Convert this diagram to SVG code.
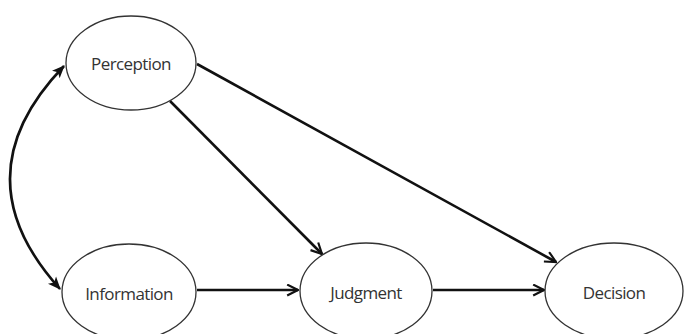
<svg xmlns="http://www.w3.org/2000/svg" width="685" height="334" viewBox="0 0 685 334">
<style>
.node ellipse{fill:#fff;stroke:#333;stroke-width:1.3}
.node text{font-family:"Open Sans","Noto Sans",sans-serif;font-size:17px;fill:#333;text-anchor:middle;dominant-baseline:central;letter-spacing:-0.6px}
.edge{fill:none;stroke:#111;stroke-width:2.6}
</style>
<defs>
<marker id="ah" viewBox="0 0 12 12" refX="11" refY="6" markerWidth="5" markerHeight="5" orient="auto-start-reverse" markerUnits="strokeWidth">
<path d="M1,1 L11,6 L1,11" fill="none" stroke="#111" stroke-width="2"/>
</marker>
<marker id="ahf" viewBox="0 0 12 12" refX="11" refY="6" markerWidth="5" markerHeight="5" orient="auto-start-reverse" markerUnits="strokeWidth">
<path d="M0,1 L12,6 L0,11 L3,6 z" fill="#111"/>
</marker>
</defs>
<g id="connectors">
<path class="edge" d="M64,66 Q-42,176 60,289" marker-start="url(#ahf)" marker-end="url(#ahf)"/>
<line class="edge" x1="197" y1="290" x2="298" y2="290" marker-end="url(#ah)"/>
<line class="edge" x1="433" y1="290" x2="544" y2="290" marker-end="url(#ah)"/>
<line class="edge" x1="170" y1="101" x2="322" y2="254" marker-end="url(#ah)"/>
<line class="edge" x1="197" y1="64" x2="556" y2="262" marker-end="url(#ah)"/>
</g>
<g id="perception" class="node">
<ellipse cx="131" cy="63" rx="65" ry="47"/>
<text x="131" y="63">Perception</text>
</g>
<g id="information" class="node">
<ellipse cx="129" cy="292" rx="67" ry="48"/>
<text x="129" y="293">Information</text>
</g>
<g id="judgment" class="node">
<ellipse cx="366" cy="291" rx="66" ry="48"/>
<text x="366" y="292">Judgment</text>
</g>
<g id="decision" class="node">
<ellipse cx="614" cy="291" rx="69" ry="48"/>
<text x="614" y="292">Decision</text>
</g>
</svg>
